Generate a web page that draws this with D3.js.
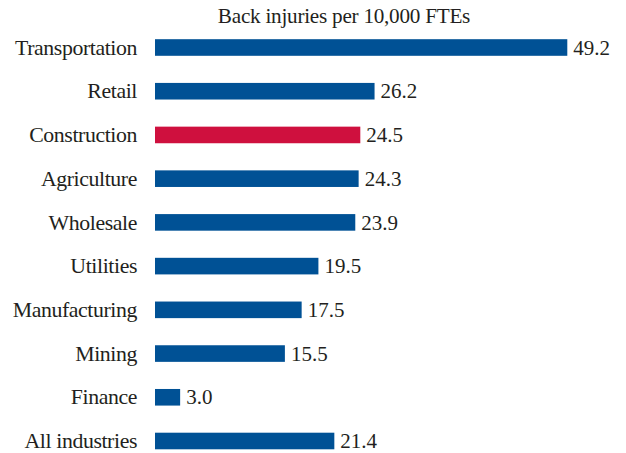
<!DOCTYPE html>
<html>
<head>
<meta charset="utf-8">
<script src="https://cdn.jsdelivr.net/npm/d3@7"></script>
<style>
  body { margin: 0; background: #fff; }
  text { font-family: "Liberation Serif", "Times New Roman", serif; fill: #231f20; }
</style>
</head>
<body>
<div id="chart"></div>
<script>
var industries = ["Transportation", "Retail", "Construction", "Agriculture", "Wholesale",
                  "Utilities", "Manufacturing", "Mining", "Finance", "All industries"];
var injuries = [49.2, 26.2, 24.5, 24.3, 23.9, 19.5, 17.5, 15.5, 3.0, 21.4];
var highlight = "Construction";

var width = 626, height = 453;

var data = industries.map(function (d, i) { return {name: d, value: injuries[i]}; });

var svg = d3.select("#chart")
    .append("svg")
      .attr("width", width)
      .attr("height", height);

var x = d3.scaleLinear()
    .domain([0, 50])
    .range([155, 574]);

var y = d3.scalePoint()
    .domain(industries)
    .range([47.5, 441]);

var barH = 16.6;

// title
svg.append("text")
    .attr("x", 344)
    .attr("y", 23)
    .style("text-anchor", "middle")
    .style("font-size", "21.2px")
    .style("letter-spacing", "-0.25px")
    .text("Back injuries per 10,000 FTEs");

// bars
svg.append("g")
    .selectAll("rect")
    .data(data)
    .enter()
    .append("rect")
      .attr("x", x(0))
      .attr("y", function (d) { return y(d.name) - barH / 2; })
      .attr("width", function (d) { return x(d.value) - x(0); })
      .attr("height", barH)
      .style("fill", function (d) { return d.name === highlight ? "#cf103e" : "#005195"; });

// category labels
svg.append("g")
    .selectAll("text")
    .data(data)
    .enter()
    .append("text")
      .attr("x", 137)
      .attr("y", function (d) { return y(d.name); })
      .attr("dy", "0.33em")
      .style("text-anchor", "end")
      .style("font-size", "21.8px")
      .style("letter-spacing", "-0.4px")
      .text(function (d) { return d.name; });

// value labels
svg.append("g")
    .selectAll("text")
    .data(data)
    .enter()
    .append("text")
      .attr("x", function (d) { return x(d.value) + 6; })
      .attr("y", function (d) { return y(d.name); })
      .attr("dy", "0.34em")
      .style("font-size", "21px")
      .text(function (d) { return d.value.toFixed(1); });
</script>
</body>
</html>
